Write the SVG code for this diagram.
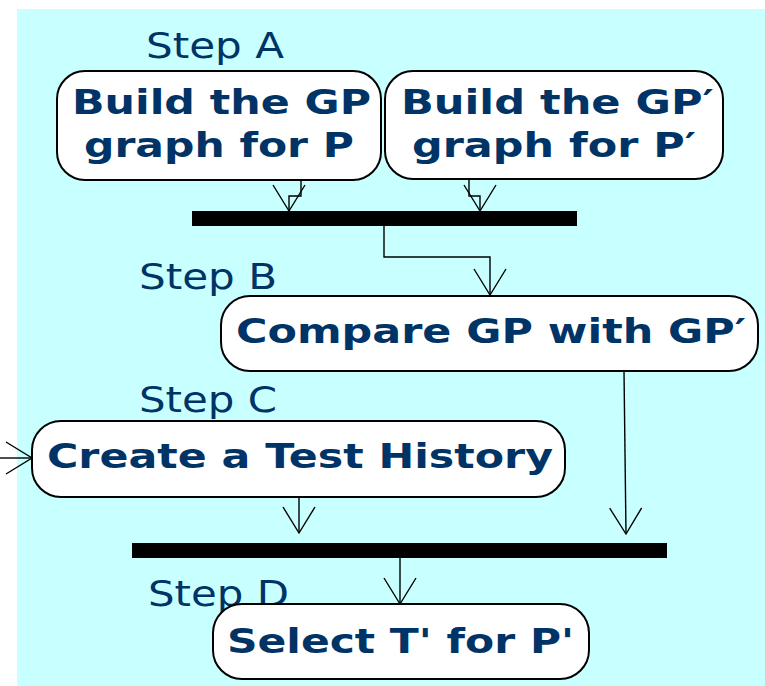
<svg xmlns="http://www.w3.org/2000/svg" width="765" height="686" viewBox="0 0 765 686">
  <defs>
    <marker id="open-arrow" markerUnits="userSpaceOnUse" markerWidth="40" markerHeight="40" viewBox="-30 -20 40 40" refX="0" refY="0" orient="auto" overflow="visible">
      <path d="M-26,-16 L0,0 L-26,16" fill="none" stroke="#000" stroke-width="1.4"/>
    </marker>
  </defs>
  <style>
    .node rect { fill: #fff; stroke: #000; stroke-width: 2; }
    .label { font-family: "DejaVu Sans", Verdana, sans-serif; font-weight: bold; font-size: 33px; fill: #003366; }
    .step { font-family: "DejaVu Sans", Verdana, sans-serif; font-size: 35px; fill: #003366; }
    .edge { fill: none; stroke: #000; stroke-width: 1.4; marker-end: url(#open-arrow); }
    .bar { fill: #000; }
  </style>

  <!-- background panel -->
  <rect x="17" y="9" width="748" height="677" fill="#C8FFFF"/>

  <!-- step captions -->
  <g id="captions">
    <text class="step" x="146" y="58" textLength="138" lengthAdjust="spacingAndGlyphs">Step A</text>
    <text class="step" x="139" y="289" textLength="138" lengthAdjust="spacingAndGlyphs">Step B</text>
    <text class="step" x="139" y="412" textLength="138" lengthAdjust="spacingAndGlyphs">Step C</text>
    <text class="step" x="148" y="606" textLength="141" lengthAdjust="spacingAndGlyphs">Step D</text>
  </g>

  <!-- synchronisation bars -->
  <g id="fork1"><rect class="bar" x="192" y="211" width="385" height="15"/></g>
  <g id="join2"><rect class="bar" x="132" y="543" width="535" height="15"/></g>

  <!-- activities -->
  <g id="build-gp" class="node">
    <rect x="57" y="71" width="324" height="109" rx="28" ry="28"/>
    <text class="label" x="72" y="114" textLength="299" lengthAdjust="spacingAndGlyphs">Build the GP</text>
    <text class="label" x="84" y="157" textLength="270" lengthAdjust="spacingAndGlyphs">graph for P</text>
  </g>
  <g id="build-gp-prime" class="node">
    <rect x="385" y="71" width="338" height="108" rx="28" ry="28"/>
    <text class="label" x="401" y="114" textLength="313" lengthAdjust="spacingAndGlyphs">Build the GP′</text>
    <text class="label" x="412" y="157" textLength="284" lengthAdjust="spacingAndGlyphs">graph for P′</text>
  </g>
  <g id="compare" class="node">
    <rect x="221" y="296" width="537" height="75" rx="29" ry="29"/>
    <text class="label" x="236" y="343" textLength="510" lengthAdjust="spacingAndGlyphs">Compare GP with GP′</text>
  </g>
  <g id="test-history" class="node">
    <rect x="32" y="421" width="533" height="76" rx="29" ry="29"/>
    <text class="label" x="47" y="468" textLength="506" lengthAdjust="spacingAndGlyphs">Create a Test History</text>
  </g>
  <g id="select" class="node">
    <rect x="213" y="604" width="376" height="75" rx="29" ry="29"/>
    <text class="label" x="227" y="653" textLength="347" lengthAdjust="spacingAndGlyphs">Select T' for P'</text>
  </g>

  <!-- control flow -->
  <g id="connectors">
    <polyline class="edge" points="301,180 301,196 289,196 289,211"/>
    <polyline class="edge" points="469,179 469,196 480,196 480,211"/>
    <polyline class="edge" points="384,226 384,257 490,257 490,295"/>
    <polyline class="edge" points="624,371 626,534"/>
    <polyline class="edge" points="0,458 32,458"/>
    <polyline class="edge" points="299,497 299,533"/>
    <polyline class="edge" points="400,558 400,604"/>
  </g>
</svg>
